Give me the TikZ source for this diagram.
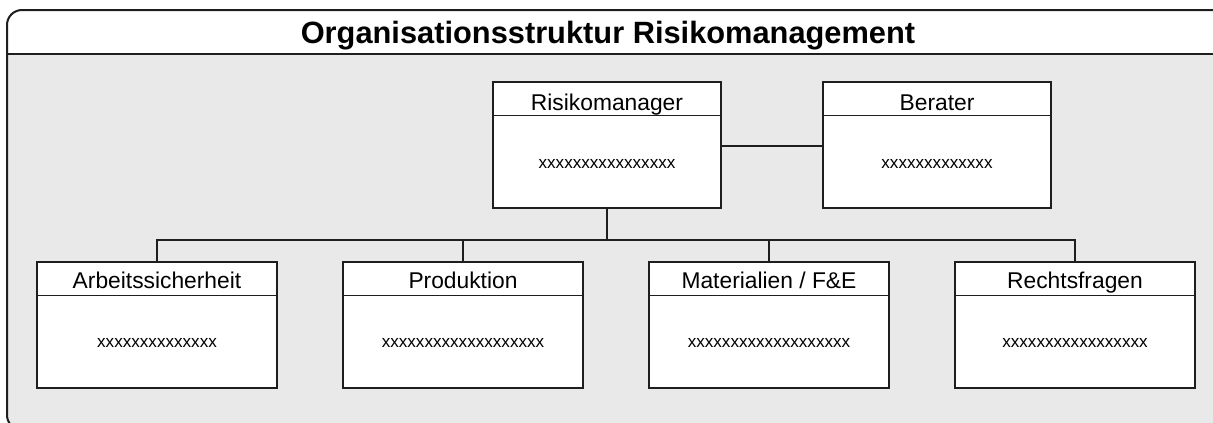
\documentclass[tikz,border=0pt]{standalone}
\usepackage{fontspec}
\setmainfont{Liberation Sans}
\definecolor{graybg}{HTML}{E9E9E9}
\definecolor{linec}{HTML}{1E1E1E}
\begin{document}
\begin{tikzpicture}[x=1pt,y=-1pt,
  box/.style={draw=linec, fill=white, line width=1.3pt, inner sep=0pt, rectangle},
  topbox/.style={box, minimum width=228pt, minimum height=126pt},
  botbox/.style={box, minimum width=240pt, minimum height=126pt},
  sepline/.style={draw=linec, line width=1.1pt},
  hdr/.style={font=\fontsize{22.8}{26}\selectfont, inner sep=0pt, anchor=base},
  bodytxt/.style={font=\fontsize{17.1}{20}\selectfont, inner sep=0pt},
  conn/.style={draw=linec, line width=1.1pt},
  mainconn/.style={draw=linec, line width=2pt},
  frame/.style={draw=linec, line width=2pt, rounded corners=15pt}]
\useasboundingbox (0,0) rectangle (1213,423);
\begin{scope}
  \clip (0,0) rectangle (1213,423);
  \begin{scope}
    \clip[rounded corners=15pt] (7,10) rectangle (1240,430);
    \fill[white] (0,0) rectangle (1240,54);
    \fill[graybg] (0,54) rectangle (1240,430);
  \end{scope}
  \draw[frame] (7,10) rectangle (1240,430);
  \draw[linec, line width=2pt] (7,54) -- (1213,54);
\end{scope}
\node[font=\fontsize{30.8}{34}\selectfont\bfseries, inner sep=0pt, anchor=base] (title) at (608,43) {Organisationsstruktur Risikomanagement};
% top boxes
\node[topbox] (rm) at (607,145) {};
\draw[sepline] ([yshift=-34pt]rm.north west) -- ([yshift=-34pt]rm.north east);
\node[hdr] (rmT) at ([yshift=-28.7pt]rm.north) {Risikomanager};
\node[bodytxt] (rmB) at ([yshift=-83pt]rm.north) {xxxxxxxxxxxxxxxx};
\node[topbox] (be) at (937,145) {};
\draw[sepline] ([yshift=-34pt]be.north west) -- ([yshift=-34pt]be.north east);
\node[hdr] (beT) at ([yshift=-28.7pt]be.north) {Berater};
\node[bodytxt] (beB) at ([yshift=-83pt]be.north) {xxxxxxxxxxxxx};
% bottom boxes
\node[botbox] (as) at (157,325) {};
\draw[sepline] ([yshift=-34pt]as.north west) -- ([yshift=-34pt]as.north east);
\node[hdr] (asT) at ([yshift=-27pt]as.north) {Arbeitssicherheit};
\node[bodytxt] (asB) at ([yshift=-82pt]as.north) {xxxxxxxxxxxxxx};
\node[botbox] (pr) at (463,325) {};
\draw[sepline] ([yshift=-34pt]pr.north west) -- ([yshift=-34pt]pr.north east);
\node[hdr] (prT) at ([yshift=-27pt]pr.north) {Produktion};
\node[bodytxt] (prB) at ([yshift=-82pt]pr.north) {xxxxxxxxxxxxxxxxxxx};
\node[botbox] (ma) at (769,325) {};
\draw[sepline] ([yshift=-34pt]ma.north west) -- ([yshift=-34pt]ma.north east);
\node[hdr] (maT) at ([yshift=-27pt]ma.north) {Materialien / F\&E};
\node[bodytxt] (maB) at ([yshift=-82pt]ma.north) {xxxxxxxxxxxxxxxxxxx};
\node[botbox] (rf) at (1075,325) {};
\draw[sepline] ([yshift=-34pt]rf.north west) -- ([yshift=-34pt]rf.north east);
\node[hdr] (rfT) at ([yshift=-27pt]rf.north) {Rechtsfragen};
\node[bodytxt] (rfB) at ([yshift=-82pt]rf.north) {xxxxxxxxxxxxxxxxx};
% connectors
\coordinate (bus) at (607,240);
\draw[mainconn] (rm.south) -- (bus);
\draw[conn] (as.north) |- (bus) -| (rf.north);
\draw[conn] (pr.north) -- (pr.north |- bus);
\draw[conn] (ma.north) -- (ma.north |- bus);
\draw[conn] ([yshift=-1pt]rm.east) -- ([yshift=-1pt]be.west);
\end{tikzpicture}
\end{document}
